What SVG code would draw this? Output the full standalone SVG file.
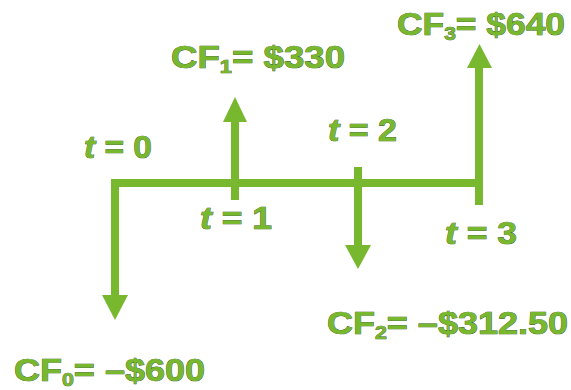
<svg xmlns="http://www.w3.org/2000/svg" width="571" height="390" viewBox="0 0 571 390">
<style>
.ln{stroke:#77b82f;stroke-width:8;fill:none}
.hd{fill:#77b82f}
text{font-family:"Liberation Sans",Arial,sans-serif;font-weight:bold;font-size:32px;fill:#77b82f;stroke:#2f4a14;stroke-width:0.7;paint-order:stroke}
.it{font-style:italic}
.sub{font-size:19px}
</style>
<rect width="571" height="390" fill="#fff"/>
<g id="connectors">
<path class="ln" d="M115 297 V183 H479"/>
<polygon class="hd" points="102,295 128,295 115,320"/>
<path class="ln" d="M235 200 V120"/>
<polygon class="hd" points="223,122 247,122 235,97"/>
<path class="ln" d="M358 167 V247"/>
<polygon class="hd" points="345,245 371,245 358,269"/>
<path class="ln" d="M479 205 V66"/>
<polygon class="hd" points="467,68 492,68 479.5,44"/>
</g>
<g id="t0"><text x="84" y="158" textLength="68" lengthAdjust="spacingAndGlyphs"><tspan class="it">t</tspan> = 0</text></g>
<g id="t1"><text x="200" y="229" textLength="72" lengthAdjust="spacingAndGlyphs"><tspan class="it">t</tspan> = 1</text></g>
<g id="t2"><text x="328" y="141" textLength="69" lengthAdjust="spacingAndGlyphs"><tspan class="it">t</tspan> = 2</text></g>
<g id="t3"><text x="445" y="244" textLength="72" lengthAdjust="spacingAndGlyphs"><tspan class="it">t</tspan> = 3</text></g>
<g id="cf0"><text x="14" y="381" textLength="191" lengthAdjust="spacingAndGlyphs">CF<tspan class="sub" dy="5">0</tspan><tspan dy="-5">= –$600</tspan></text></g>
<g id="cf1"><text x="171" y="68" textLength="174" lengthAdjust="spacingAndGlyphs">CF<tspan class="sub" dy="5">1</tspan><tspan dy="-5">= $330</tspan></text></g>
<g id="cf2"><text x="327" y="334" textLength="241" lengthAdjust="spacingAndGlyphs">CF<tspan class="sub" dy="5">2</tspan><tspan dy="-5">= –$312.50</tspan></text></g>
<g id="cf3"><text x="397" y="35" textLength="168" lengthAdjust="spacingAndGlyphs">CF<tspan class="sub" dy="5">3</tspan><tspan dy="-5">= $640</tspan></text></g>
</svg>
